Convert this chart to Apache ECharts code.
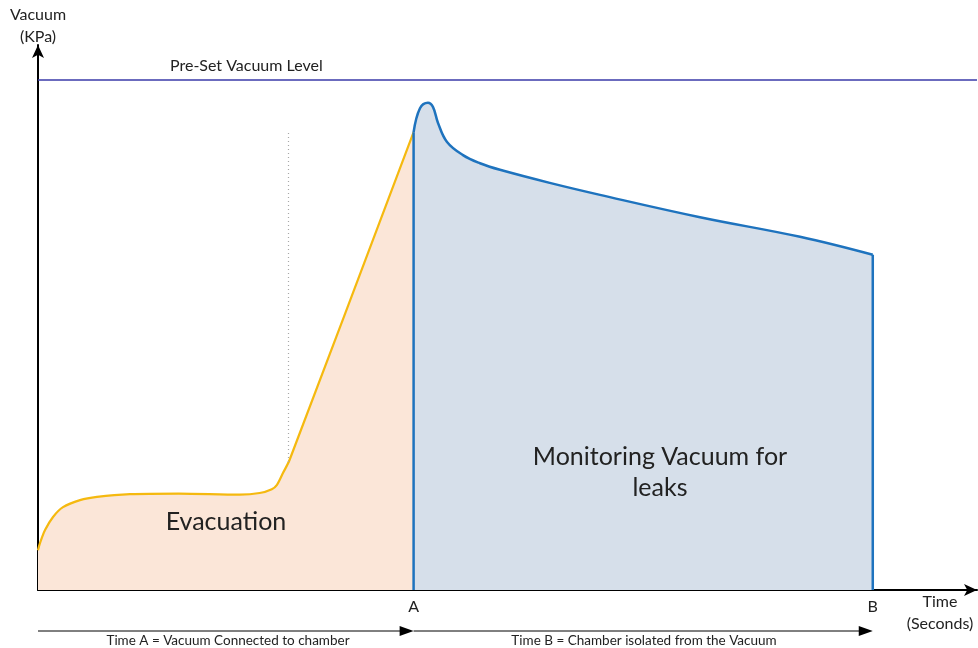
<!DOCTYPE html>
<html>
<head>
<meta charset="utf-8">
<script src="https://cdn.jsdelivr.net/npm/echarts@6/dist/echarts.min.js"></script>
<style>
  html, body { margin: 0; padding: 0; background: #fff; }
  #chart { width: 978px; height: 648px; }
</style>
</head>
<body>
<div id="chart"></div>
<script>
// Time axis runs 0..1000 (arbitrary units), vacuum axis 0..100
const evacuation = [
  [0, 7.3], [2.1, 8.6], [7.5, 11], [16, 13.4], [26.6, 15.2], [44.7, 16.5],
  [62.8, 17.1], [98, 17.6], [150, 17.7], [215, 17.5], [236, 17.8],
  [249, 18.5], [254.5, 19.3], [261, 21.5], [268, 23.9], [400, 84]
];
const monitoring = [
  [400, 84], [406.8, 88.4], [415.3, 89.4], [420.7, 88.6], [426, 85.7],
  [435.6, 82.2], [452.6, 79.8], [470.7, 78.3], [492, 77.1], [545, 74.7],
  [598.5, 72.5], [705, 68.4], [811.5, 64.8], [889, 61.5]
];
const edgeA = [[400, 0], [400, 84]];
const edgeB = [[889, 61.5], [889, 0]];
const presetLevel = 93.6;
const dottedMark = [[267, 23.5], [267, 84]];
const tickValues = [400, 889];
const tickLabels = ['A', 'B'];
const spanLabels = ['Time A = Vacuum Connected to chamber', 'Time B = Chamber isolated from the Vacuum'];

const FONT = 'Lato';
const chart = echarts.init(document.getElementById('chart'));

const option = {
  animation: false,
  textStyle: { fontFamily: FONT },
  grid: { left: 38, right: 1, top: 45, bottom: 58, containLabel: false, outerBoundsMode: 'none' },
  xAxis: {
    type: 'value', min: 0, max: 1000,
    splitLine: { show: false },
    axisTick: { show: false },
    axisLine: { lineStyle: { color: '#000', width: 2 }, symbol: ['none', 'arrow'], symbolSize: [9, 13] },
    axisLabel: {
      customValues: tickValues, color: '#222', fontSize: 16, margin: 9,
      formatter: (v) => tickLabels[tickValues.indexOf(v)] || ''
    }
  },
  yAxis: {
    type: 'value', min: 0, max: 100,
    splitLine: { show: false },
    axisTick: { show: false },
    axisLabel: { show: false },
    axisLine: { lineStyle: { color: '#000', width: 2 }, symbol: ['none', 'arrow'], symbolSize: [9, 13] },
    name: 'Vacuum\n(KPa)', nameLocation: 'end', nameGap: -3,
    nameTextStyle: { color: '#222', fontSize: 16, align: 'center', lineHeight: 22, padding: [0, 0, 0, 0] }
  },
  series: [
    {
      type: 'line', data: evacuation, smooth: 0.3, symbol: 'none',
      lineStyle: { color: '#f5b90f', width: 2.2 },
      areaStyle: { color: '#fbe6d8', opacity: 1 },
      markLine: {
        silent: true, symbol: 'none',
        data: [
          [{ coord: dottedMark[0], lineStyle: { color: '#a8a8a8', type: [1, 3], width: 1.2 }, label: { show: false } },
           { coord: dottedMark[1] }],
          {
            yAxis: presetLevel,
            lineStyle: { color: '#3a3aa8', type: 'solid', width: 1.5 },
            label: { show: true, position: 'insideStartTop', distance: [132, 6], formatter: 'Pre-Set Vacuum Level', color: '#222', fontSize: 16 }
          }
        ]
      },
      z: 2
    },
    {
      type: 'line', data: monitoring, smooth: 0.4, symbol: 'none',
      lineStyle: { color: '#1e73be', width: 2.5 },
      areaStyle: { color: '#d6dfea', opacity: 1 },
      z: 3
    },
    {
      type: 'line', data: edgeA, symbol: 'none',
      lineStyle: { color: '#1e73be', width: 2.5 }, z: 4
    },
    {
      type: 'line', data: edgeB, symbol: 'none',
      lineStyle: { color: '#1e73be', width: 2.5 }, z: 4
    }
  ]
};
chart.setOption(option);

// annotations drawn after layout so they follow the axis scale
const px = (x, y) => chart.convertToPixel({ gridIndex: 0 }, [x, y]);
const x0 = px(0, 0)[0], xA = px(tickValues[0], 0)[0], xB = px(tickValues[1], 0)[0];
const yArrow = 631;
const arrow = (xs, xe) => [
  { type: 'line', z: 100, shape: { x1: xs, y1: yArrow, x2: xe - 10, y2: yArrow }, style: { stroke: '#000', lineWidth: 1 } },
  { type: 'polygon', z: 100, shape: { points: [[xe, yArrow], [xe - 14, yArrow - 5], [xe - 14, yArrow + 5]] }, style: { fill: '#000' } }
];
chart.setOption({
  graphic: [
    ...arrow(x0, xA),
    ...arrow(xA, xB),
    { type: 'text', z: 100, x: 228, y: 641, style: { text: spanLabels[0], font: '13.5px ' + FONT, fill: '#222', align: 'center', verticalAlign: 'middle' } },
    { type: 'text', z: 100, x: 644, y: 641, style: { text: spanLabels[1], font: '13.5px ' + FONT, fill: '#222', align: 'center', verticalAlign: 'middle' } },
    { type: 'text', z: 100, x: 940, y: 613, style: { text: 'Time\n(Seconds)', font: '16px ' + FONT, lineHeight: 22, fill: '#222', align: 'center', verticalAlign: 'middle' } },
    { type: 'text', z: 100, x: 226, y: 522, style: { text: 'Evacuation', font: '25px ' + FONT, fill: '#222', align: 'center', verticalAlign: 'middle' } },
    { type: 'text', z: 100, x: 660, y: 472, style: { text: 'Monitoring Vacuum for\nleaks', font: '25px ' + FONT, lineHeight: 31, fill: '#222', align: 'center', verticalAlign: 'middle' } }
  ]
});
</script>
</body>
</html>
